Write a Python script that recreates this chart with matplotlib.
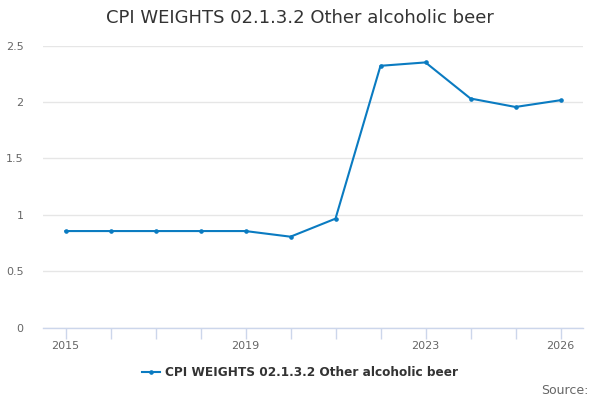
import numpy as np
import matplotlib
matplotlib.use("Agg")
import matplotlib.pyplot as plt

# datos del grafico
years = [2015, 2016, 2017, 2018, 2019, 2020, 2021, 2022, 2023, 2024, 2025, 2026]
weights = [0.855, 0.855, 0.855, 0.855, 0.855, 0.805, 0.965, 2.32, 2.35, 2.03, 1.955, 2.015]
label_years = [2015, 2019, 2023, 2026]
series_name = "CPI WEIGHTS 02.1.3.2 Other alcoholic beer"

line_color = "#0a7bc1"
axis_color = "#ccd6eb"
grid_color = "#e6e6e6"
text_color = "#666666"

fig = plt.figure(figsize=(6, 4), dpi=100)
ax = fig.add_axes([43 / 600, (400 - 327.5) / 400, 540 / 600, 282 / 400])

ax.plot(years, weights, color=line_color, linewidth=1.5, marker="o",
        markersize=2.3, label=series_name, zorder=3)

ax.set_xlim(2014.5, 2026.5)
ax.set_ylim(0, 2.5)
ax.set_yticks([0, 0.5, 1, 1.5, 2, 2.5])
ax.set_yticklabels(["0", "0.5", "1", "1.5", "2", "2.5"])
ax.set_xticks(years)
ax.set_xticklabels([str(y) if y in label_years else "" for y in years])

ax.grid(axis="y", color=grid_color, linewidth=1)
ax.set_axisbelow(True)
for side in ["top", "right", "left"]:
    ax.spines[side].set_visible(False)
ax.spines["bottom"].set_color(axis_color)
ax.spines["bottom"].set_linewidth(1)

ax.tick_params(axis="x", colors=axis_color, length=8, width=1, labelcolor=text_color,
               labelsize=8, pad=2)
ax.tick_params(axis="y", length=0, labelcolor=text_color, labelsize=8, pad=14)

fig.text(0.5, 1 - 18 / 400, series_name, ha="center", va="center",
         fontsize=13, color="#333333")

leg = fig.legend(loc="center", bbox_to_anchor=(0.5, 1 - 373 / 400), frameon=False,
                 prop={"weight": "bold", "size": 8.7}, handlelength=1.5,
                 handletextpad=0.4)
for t in leg.get_texts():
    t.set_color("#333333")

fig.text(589 / 600, 1 - 390 / 400, "Source:", ha="right", va="center",
         fontsize=9, color=text_color)

fig.savefig("out.png", dpi=100)
